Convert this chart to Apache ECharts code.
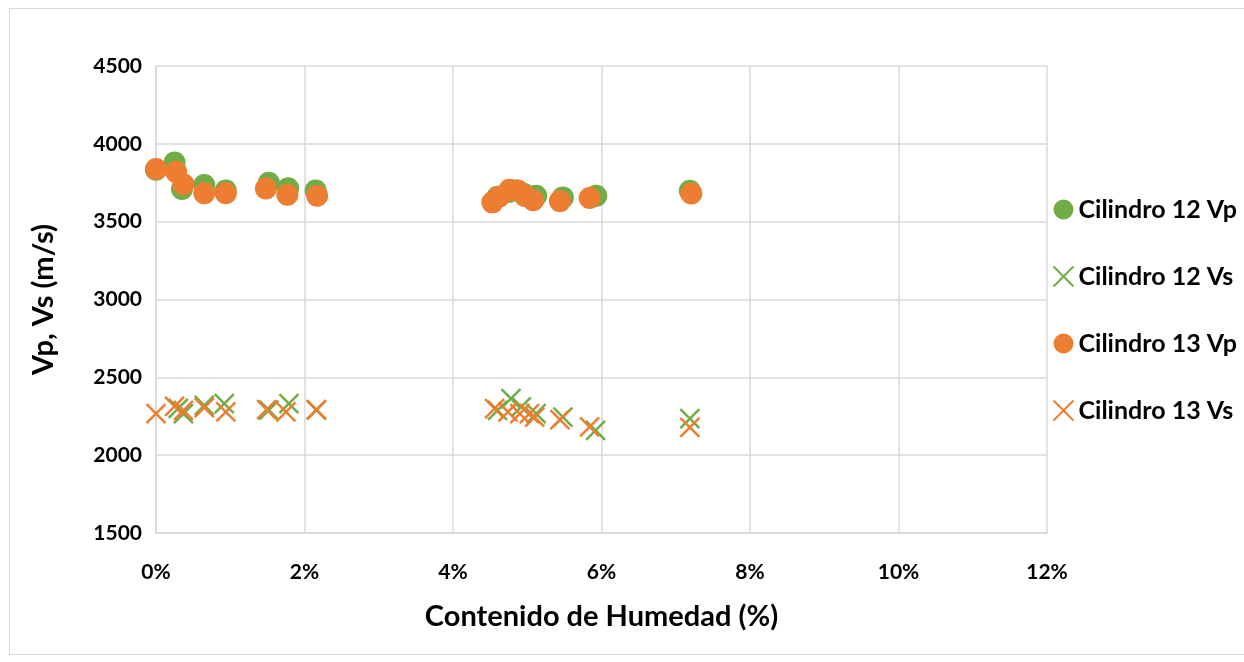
<!DOCTYPE html>
<html><head><meta charset="utf-8">
<script src="https://cdn.jsdelivr.net/npm/echarts@6/dist/echarts.min.js"></script>
<style>html,body{margin:0;padding:0;background:#fff}#c{position:absolute;left:9px;top:8px;width:1235px;height:647px;border:1px solid #d9d9d9;border-right:none;box-sizing:border-box}</style>
</head><body><div id="c"></div>
<script>
const c12vp = [[0.0,3833],[0.25,3880],[0.35,3710],[0.65,3735],[0.94,3700],[1.52,3750],[1.78,3715],[2.15,3700],
  [4.6,3660],[4.75,3690],[4.85,3700],[4.95,3680],[5.12,3667],[5.48,3656],[5.93,3667],[7.19,3699]];
const c12vs = [[0.3,2300],[0.37,2267],[0.65,2320],[0.92,2331],[1.52,2290],[1.79,2331],[2.16,2290],
  [4.6,2288],[4.78,2363],[4.92,2310],[5.12,2267],[5.48,2245],[5.92,2160],[7.19,2235]];
const c13vp = [[0.0,3838],[0.27,3820],[0.37,3740],[0.65,3683],[0.94,3683],[1.48,3713],[1.77,3673],[2.17,3667],
  [4.53,3624],[4.62,3660],[4.76,3705],[4.87,3700],[4.97,3665],[5.08,3638],[5.44,3632],[5.84,3652],[7.21,3681]];
const c13vs = [[0.0,2267],[0.25,2314],[0.37,2288],[0.65,2305],[0.94,2278],[1.49,2293],[1.75,2278],[2.16,2293],
  [4.56,2299],[4.74,2278],[4.9,2267],[5.03,2267],[5.1,2245],[5.44,2229],[5.84,2181],[7.19,2178]];
const names = ['Cilindro 12 Vp','Cilindro 12 Vs','Cilindro 13 Vp','Cilindro 13 Vs'];
const green = '#70ad47', orange = '#ed7d31';
const xPath = 'path://M0,0L10,10M10,0L0,10';
const ch = echarts.init(document.getElementById('c'));
const font = 'Lato, Open Sans, sans-serif';
const W = 'bold';
function circ(name, data, col){return {name, type:'scatter', data, symbol:'circle', symbolSize:22, itemStyle:{color:col, opacity:1}};}
function cross(name, data, col){return {name, type:'scatter', data, symbol:xPath, symbolSize:19, itemStyle:{color:'none', borderColor:col, borderWidth:2.5, opacity:1}};}
ch.setOption({
  animation:false,
  textStyle:{fontFamily:font},
  grid:{left:146, right:197, top:57, bottom:121},
  legend:{orient:'vertical', left:1036, top:180, itemWidth:20, itemHeight:20, itemGap:36,
    textStyle:{fontSize:25, fontWeight:W, color:'#000', fontFamily:font, lineHeight:31},
    data:names},
  xAxis:{type:'value', min:0, max:12, interval:2,
    name:'Contenido de Humedad (%)', nameLocation:'middle', nameGap:69,
    nameTextStyle:{fontSize:29, fontWeight:W, color:'#000'},
    axisLabel:{formatter:v=>v+'%', fontSize:21, fontWeight:W, color:'#000', margin:29},
    axisLine:{show:true, lineStyle:{color:'#d9d9d9', width:1.5}}, axisTick:{show:false},
    splitLine:{show:true, lineStyle:{color:'#d9d9d9', width:1.5}}},
  yAxis:{type:'value', min:1500, max:4500, interval:500,
    name:'Vp, Vs (m/s)', nameLocation:'middle', nameGap:98, nameRotate:90,
    nameTextStyle:{fontSize:29, fontWeight:W, color:'#000'},
    axisLabel:{formatter:v=>String(v), fontSize:21, fontWeight:W, color:'#000', margin:14},
    axisLine:{show:true, lineStyle:{color:'#d9d9d9', width:1.5}}, axisTick:{show:false},
    splitLine:{show:true, lineStyle:{color:'#d9d9d9', width:1.5}}},
  series:[circ(names[0], c12vp, green), cross(names[1], c12vs, green), circ(names[2], c13vp, orange), cross(names[3], c13vs, orange)]
});
</script></body></html>
